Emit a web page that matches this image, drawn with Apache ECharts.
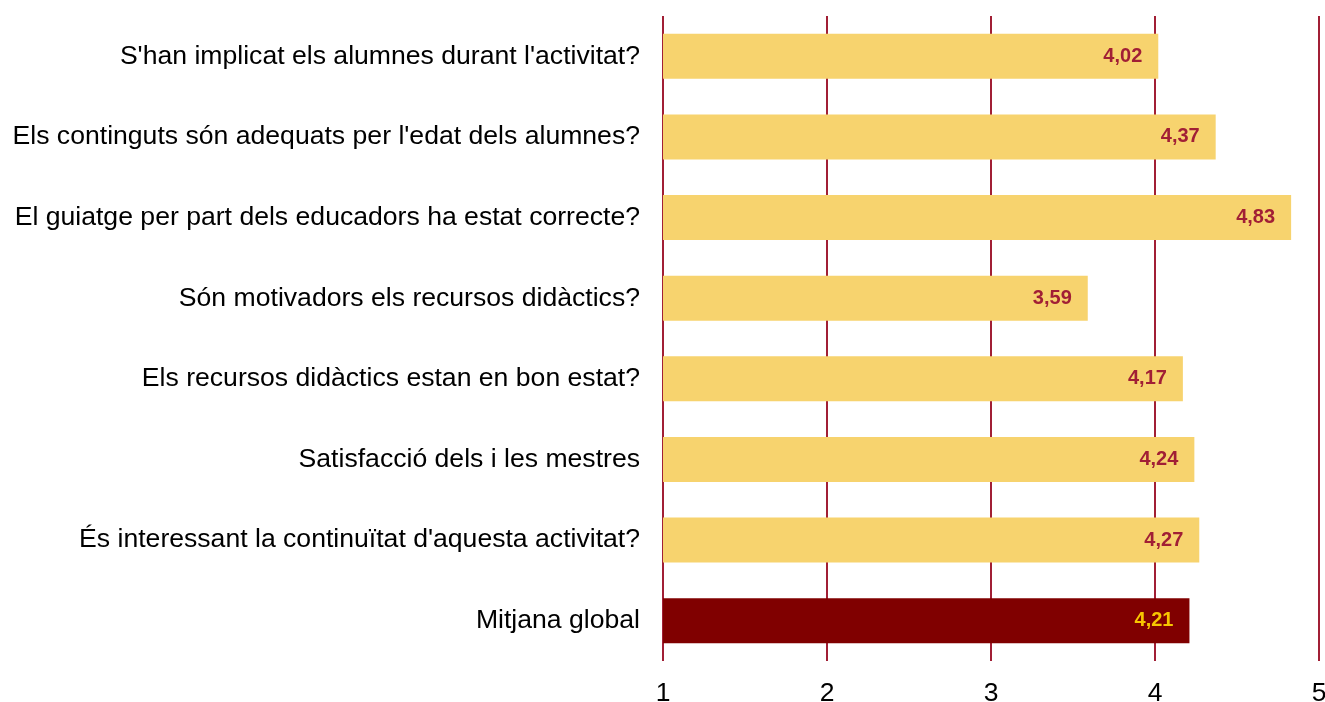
<!DOCTYPE html>
<html>
<head>
<meta charset="utf-8">
<script src="https://cdn.jsdelivr.net/npm/echarts@6/dist/echarts.min.js"></script>
<style>
  html, body { margin: 0; padding: 0; background: #ffffff; }
  #chart { width: 1325px; height: 702px; }
</style>
</head>
<body>
<div id="chart"></div>
<script>
// Survey questions, top to bottom
const categories = [
  "S'han implicat els alumnes durant l'activitat?",
  "Els continguts són adequats per l'edat dels alumnes?",
  "El guiatge per part dels educadors ha estat correcte?",
  "Són motivadors els recursos didàctics?",
  "Els recursos didàctics estan en bon estat?",
  "Satisfacció dels i les mestres",
  "És interessant la continuïtat d'aquesta activitat?",
  "Mitjana global"
];
// Average score for each question (scale 1–5)
const scores = [4.02, 4.37, 4.83, 3.59, 4.17, 4.24, 4.27, 4.21];
// Which entry is the overall average
const highlightIndex = 7;
const axisTicks = [1, 2, 3, 4, 5];

// Scores are shown with a decimal comma
const fmt = v => v.toFixed(2).replace('.', ',');

const seriesData = scores.map((v, i) => {
  const isTotal = i === highlightIndex;
  return {
    value: v,
    itemStyle: { color: isTotal ? '#800000' : '#F7D36E' },
    label: { color: isTotal ? '#F7C600' : '#A11F35' }
  };
});

const chart = echarts.init(document.getElementById('chart'), null, { renderer: 'canvas' });
chart.setOption({
  animation: false,
  backgroundColor: '#ffffff',
  grid: {
    left: 663, right: 6, top: 16, bottom: 41,
    containLabel: false,
    outerBoundsMode: 'none'
  },
  xAxis: {
    type: 'value',
    min: axisTicks[0],
    max: axisTicks[axisTicks.length - 1],
    interval: 1,
    axisLine: { show: false },
    axisTick: { show: false },
    splitLine: { show: true, lineStyle: { color: '#A11F35', width: 2 } },
    axisLabel: {
      color: '#000000',
      fontFamily: 'Liberation Sans, Arial, sans-serif',
      fontSize: 26.5,
      margin: 19
    }
  },
  yAxis: {
    type: 'category',
    data: categories,
    inverse: true,
    axisLine: { show: false },
    axisTick: { show: false },
    splitLine: { show: false },
    axisLabel: {
      color: '#000000',
      fontFamily: 'Liberation Sans, Arial, sans-serif',
      fontSize: 26.6,
      margin: 23
    }
  },
  series: [{
    type: 'bar',
    data: seriesData,
    barWidth: 45,
    label: {
      show: true,
      position: 'insideRight',
      distance: 16,
      fontFamily: 'Liberation Sans, Arial, sans-serif',
      fontSize: 20,
      fontWeight: 'bold',
      formatter: p => fmt(p.value)
    }
  }]
});
</script>
</body>
</html>
